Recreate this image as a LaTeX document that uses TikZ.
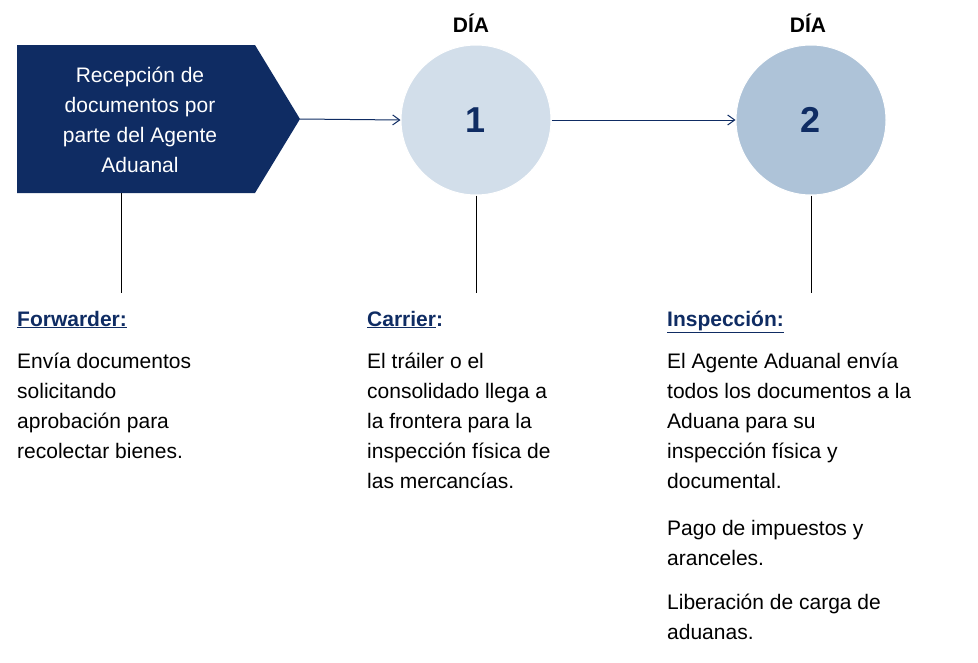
\documentclass[tikz,border=0pt]{standalone}
\usepackage{fontspec}
\setmainfont{Liberation Sans}
\usetikzlibrary{arrows.meta}
\definecolor{navy}{HTML}{0F2C63}
\definecolor{cA}{HTML}{D2DEEA}
\definecolor{cB}{HTML}{AEC3D8}
\begin{document}
\begin{tikzpicture}[x=1pt,y=-1pt,
  body/.style={anchor=base west,align=left,inner sep=0pt,font=\fontsize{21}{30}\selectfont},
  head/.style={anchor=base west,inner sep=0pt,text=navy,font=\fontsize{21}{30}\selectfont\bfseries},
  circ/.style={circle,minimum size=150pt,inner sep=0pt,draw=white,line width=1pt,text=navy,font=\fontsize{36}{40}\selectfont\bfseries},
  dia/.style={inner sep=0pt,font=\fontsize{21}{24}\selectfont\bfseries},
  arr/.style={draw=navy,line width=1pt,-{Straight Barb[length=7pt,width=10pt]}}]
\useasboundingbox (0,0) rectangle (978,662);
\fill[navy] (17,45) -- (255,45) -- (300,119) -- (255,193) -- (17,193) -- cycle;
\coordinate (tip) at (300,119);
\coordinate (pb) at (121,193);
\node[align=center,text=white,inner sep=0pt,font=\fontsize{21}{30}\selectfont] (rec) at (140,120) {Recepción de\\documentos por\\parte del Agente\\Aduanal};
\node[circ,fill=cA] (c1) at (476,120) {1};
\node[circ,fill=cB] (c2) at (811,120) {2};
\node[dia] (d1) at (471,23) {DÍA};
\node[dia] (d2) at (808,23) {DÍA};
\draw[arr] (tip) -- (c1.west);
\draw[arr] (c1.east) -- (c2.west);
\coordinate (e0) at (121,293);
\coordinate (e1) at (476,293);
\coordinate (e2) at (811,293);
\draw[line width=1pt] (pb) -- (e0);
\draw[line width=1pt] (c1.south) -- (e1);
\draw[line width=1pt] (c2.south) -- (e2);
\node[head] (h0) at (17,326) {\underline{Forwarder:}};
\node[head] (h1) at (367,326) {\underline{Carrier}:};
\node[head] (h2) at (667,326) {\underline{Inspección:}};
\node[body] (b0) at (17,458) {Envía documentos\\solicitando\\aprobación para\\recolectar bienes.};
\node[body] (b1) at (367,488) {El tráiler o el\\consolidado llega a\\la frontera para la\\inspección física de\\las mercancías.};
\node[body] (b2) at (667,488) {El Agente Aduanal envía\\todos los documentos a la\\Aduana para su\\inspección física y\\documental.};
\node[body] (b3) at (667,565) {Pago de impuestos y\\aranceles.};
\node[body] (b4) at (667,639) {Liberación de carga de\\aduanas.};
\end{tikzpicture}
\end{document}
